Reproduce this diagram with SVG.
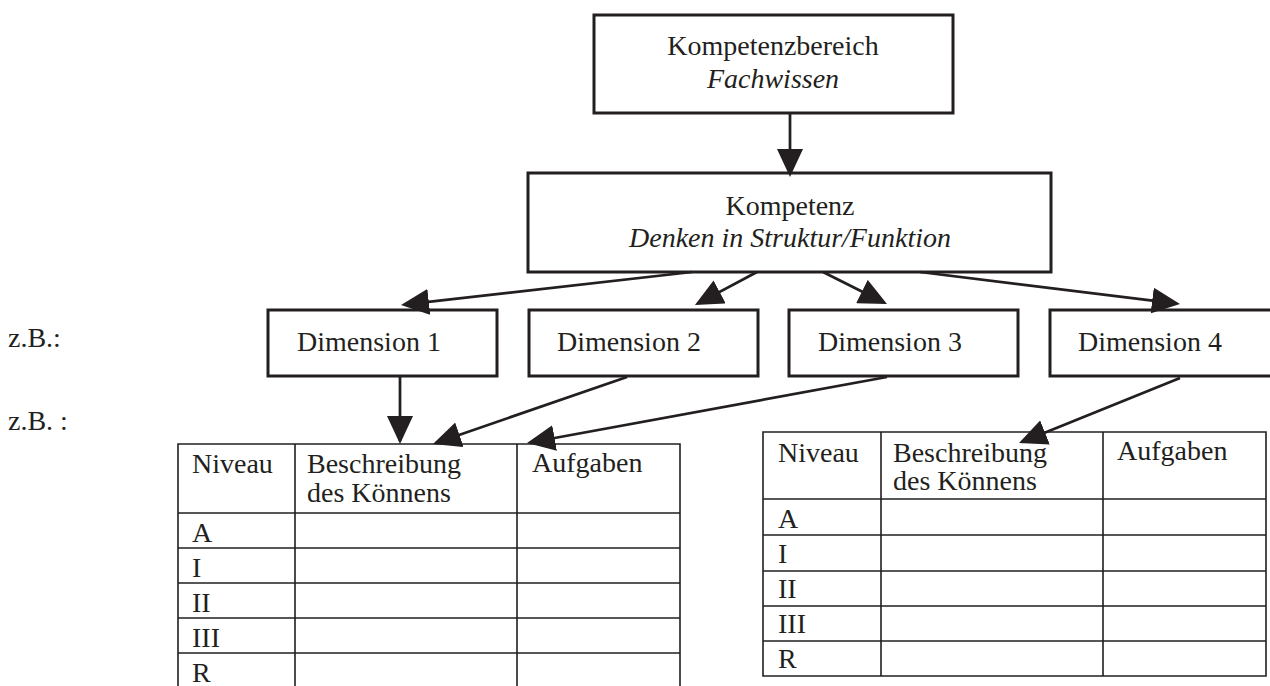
<svg xmlns="http://www.w3.org/2000/svg" width="1270" height="686" viewBox="0 0 1270 686">
<defs>
<style>
text{font-family:"Liberation Serif","Times New Roman",serif;font-size:28px;fill:#231f20}
.it{font-style:italic}
.mid{text-anchor:middle}
.box{fill:#fff;stroke:#231f20;stroke-width:3}
.conn{fill:none;stroke:#231f20;stroke-width:2.75}
.tbl{fill:none;stroke:#231f20;stroke-width:1.6}
</style>
<marker id="ah" viewBox="0 0 28 26" refX="25" refY="13" markerWidth="28" markerHeight="26" markerUnits="userSpaceOnUse" orient="auto">
<path d="M0,0 L28,13 L0,26 z" fill="#231f20"/>
</marker>
</defs>
<rect width="1270" height="686" fill="#fff"/>

<g id="labels">
<text x="8" y="347">z.B.:</text>
<text x="8" y="430">z.B. :</text>
</g>

<g id="kompetenzbereich">
<rect class="box" x="594" y="15" width="359" height="98"/>
<text class="mid" x="773" y="55">Kompetenzbereich</text>
<text class="mid it" x="773" y="88">Fachwissen</text>
</g>

<g id="kompetenz">
<rect class="box" x="528" y="173" width="523" height="99"/>
<text class="mid" x="790" y="215">Kompetenz</text>
<text class="mid it" x="790" y="247">Denken in Struktur/Funktion</text>
</g>

<g id="dim1">
<rect class="box" x="268" y="310" width="229" height="66"/>
<text x="297" y="351">Dimension 1</text>
</g>
<g id="dim2">
<rect class="box" x="529" y="310" width="229" height="66"/>
<text x="557" y="351">Dimension 2</text>
</g>
<g id="dim3">
<rect class="box" x="789" y="310" width="229" height="66"/>
<text x="818" y="351">Dimension 3</text>
</g>
<g id="dim4">
<rect class="box" x="1050" y="310" width="224" height="66"/>
<text x="1078" y="351">Dimension 4</text>
</g>

<g id="table-left">
<path class="tbl" d="M178,686 V444 H680 V686 M295,444 V686 M517,444 V686 M178,513 H680 M178,548 H680 M178,583 H680 M178,618 H680 M178,653 H680"/>
<text x="192" y="473">Niveau</text>
<text x="307" y="473">Beschreibung</text>
<text x="307" y="502">des Könnens</text>
<text x="532" y="472">Aufgaben</text>
<text x="192" y="542">A</text>
<text x="192" y="577">I</text>
<text x="192" y="612">II</text>
<text x="192" y="647">III</text>
<text x="192" y="682">R</text>
</g>

<g id="table-right">
<path class="tbl" d="M763,432 H1266 V676 H763 Z M881,432 V676 M1103,432 V676 M763,499 H1266 M763,535 H1266 M763,571 H1266 M763,606 H1266 M763,641 H1266"/>
<text x="778" y="462">Niveau</text>
<text x="893" y="462">Beschreibung</text>
<text x="893" y="490">des Könnens</text>
<text x="1117" y="460">Aufgaben</text>
<text x="778" y="528">A</text>
<text x="778" y="563">I</text>
<text x="778" y="598">II</text>
<text x="778" y="633">III</text>
<text x="778" y="668">R</text>
</g>

<g id="connectors">
<line class="conn" x1="790" y1="113" x2="790" y2="174" marker-end="url(#ah)"/>
<line class="conn" x1="692" y1="272" x2="404" y2="304.7" marker-end="url(#ah)"/>
<line class="conn" x1="757" y1="272" x2="697.6" y2="303.6" marker-end="url(#ah)"/>
<line class="conn" x1="823" y1="272" x2="884.3" y2="302.7" marker-end="url(#ah)"/>
<line class="conn" x1="920" y1="272" x2="1177" y2="303.6" marker-end="url(#ah)"/>
<line class="conn" x1="400" y1="377" x2="400" y2="441" marker-end="url(#ah)"/>
<line class="conn" x1="627" y1="377" x2="435.8" y2="443" marker-end="url(#ah)"/>
<line class="conn" x1="887" y1="377" x2="530" y2="442.5" marker-end="url(#ah)"/>
<line class="conn" x1="1180" y1="378" x2="1021.8" y2="441.9" marker-end="url(#ah)"/>
</g>
</svg>
